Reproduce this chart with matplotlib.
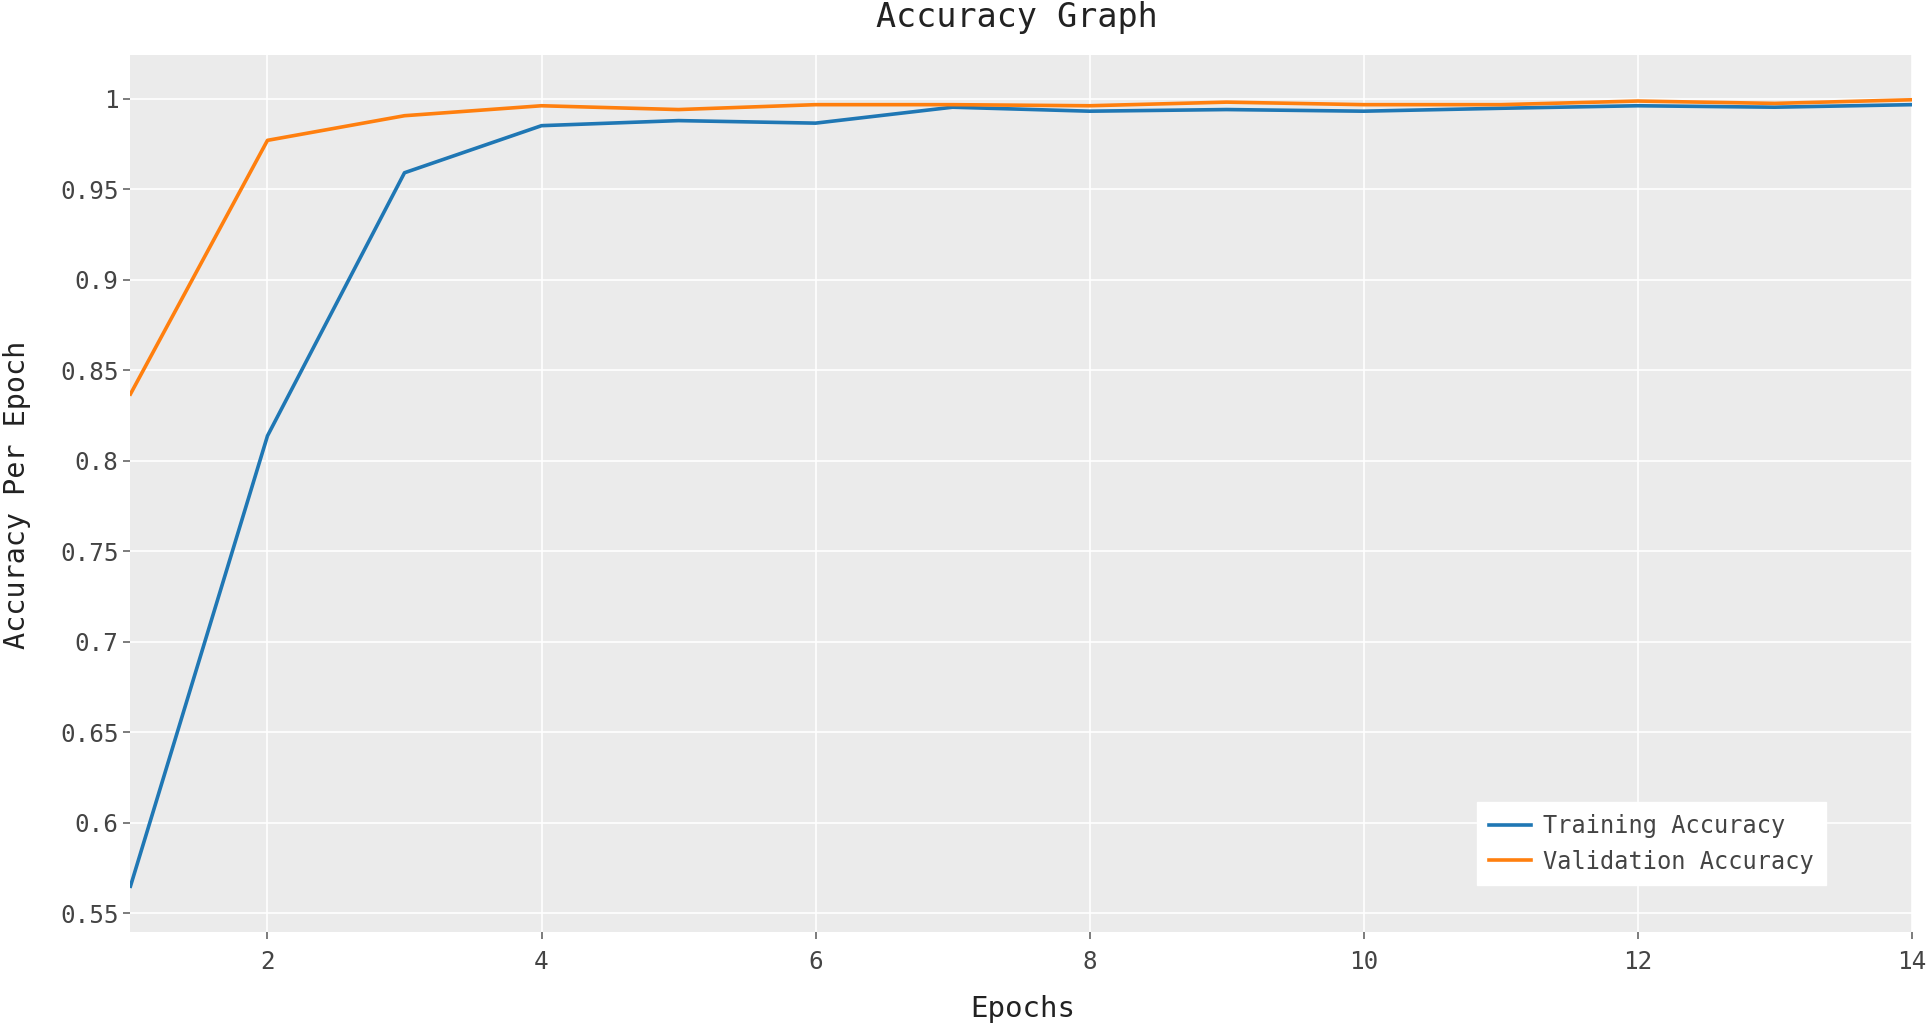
import matplotlib
matplotlib.use("Agg")
import matplotlib.pyplot as plt

epochs = list(range(1, 15))
train_acc = [0.565, 0.8137, 0.959, 0.985, 0.9878, 0.9864, 0.9952,
             0.993, 0.9939, 0.993, 0.9946, 0.996, 0.9952, 0.9966]
val_acc = [0.8368, 0.9769, 0.9905, 0.996, 0.9939, 0.9966, 0.9966,
           0.996, 0.998, 0.9966, 0.9966, 0.9986, 0.9973, 0.9993]

x_ticks = [2, 4, 6, 8, 10, 12, 14]
y_ticks = [0.55, 0.6, 0.65, 0.7, 0.75, 0.8, 0.85, 0.9, 0.95, 1.0]
y_labels = ["0.55", "0.6", "0.65", "0.7", "0.75", "0.8", "0.85", "0.9", "0.95", "1"]

plt.rcParams["font.family"] = ["DejaVu Sans Mono"]
text_color = "#444444"

fig = plt.figure(figsize=(19.3, 10.3), dpi=100)
ax = fig.add_axes([0.0676, 0.0953, 0.9229, 0.8509])
ax.set_facecolor("#ebebeb")

ax.plot(epochs, train_acc, color="#1f77b4", linewidth=2.6, label="Training Accuracy")
ax.plot(epochs, val_acc, color="#ff7f0e", linewidth=2.6, label="Validation Accuracy")

ax.set_xlim(1, 14)
ax.set_ylim(0.5398, 1.0238)
ax.set_xticks(x_ticks)
ax.set_yticks(y_ticks)
ax.set_yticklabels(y_labels)
ax.grid(True, color="white", linewidth=1.2)
ax.set_axisbelow(True)
for s in ax.spines.values():
    s.set_visible(False)
ax.tick_params(axis="both", colors="#666666", labelcolor=text_color,
               labelsize=17.5, length=5, width=1.2)
ax.tick_params(axis="x", pad=8)

fig.text(0.527, 0.983, "Accuracy Graph", ha="center", va="center",
         fontsize=24, color="#222222")
fig.text(0.53, 0.02, "Epochs", ha="center", va="center",
         fontsize=21, color="#222222")
fig.text(0.009, 0.52, "Accuracy Per Epoch", ha="center", va="center",
         rotation=90, fontsize=20.5, color="#222222")

leg = ax.legend(loc="lower left", bbox_to_anchor=(0.756, 0.053),
                borderaxespad=0, fancybox=False, frameon=True,
                fontsize=17, handlelength=1.8, labelspacing=0.5,
                borderpad=0.5, handletextpad=0.5)
leg.get_frame().set_facecolor("white")
leg.get_frame().set_edgecolor("white")
leg.get_frame().set_alpha(1)
for t in leg.get_texts():
    t.set_color(text_color)

fig.savefig("out.png", dpi=100)
